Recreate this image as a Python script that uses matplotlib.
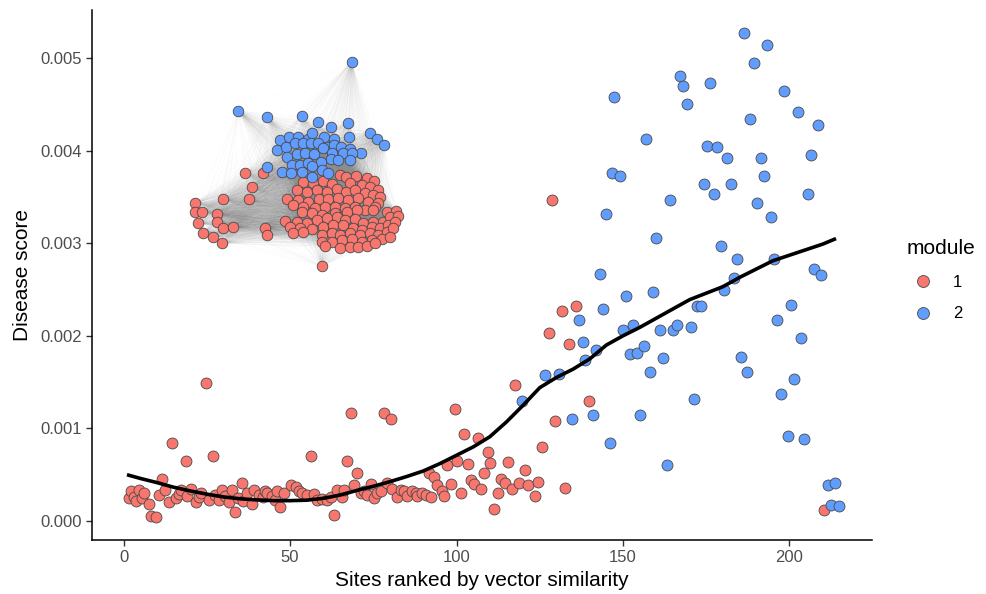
import numpy as np
import matplotlib
matplotlib.use("Agg")
import matplotlib.pyplot as plt
from matplotlib.collections import LineCollection
from matplotlib.lines import Line2D

plt.rcParams['font.family'] = ['Liberation Sans', 'DejaVu Sans']

# ---- main scatter data (scores in units of 1e-3) ----
red_x = [1.6, 2.1, 3.1, 3.6, 4.6, 5.6, 6.1, 7.6, 8.1, 9.6, 10.6, 11.4, 12.5, 13.6, 14.6,
         15.6, 16.5, 17.1, 18.6, 19.0, 20.1, 21.6, 22.5, 23.1, 24.6, 25.6, 26.8, 27.5,
         28.6, 29.6, 30.5, 31.6, 32.6, 33.6, 34.5, 35.6, 36.0, 37.1, 38.6, 39.1, 40.6,
         41.8, 42.5, 43.1, 44.6, 45.5, 46.1, 47.1, 48.3,
         50.2, 51.7, 52.6, 53.7, 55.2, 56.2, 57.2, 58.2, 59.7, 61.2, 62.2, 63.2, 64.2,
         65.7, 66.2, 67.2, 68.2, 69.2, 70.2, 71.2, 72.2, 73.2, 74.2, 75.2, 76.2, 77.2,
         78.2, 79.2, 80.2, 80.7, 82.2, 83.2, 84.2, 85.2, 86.7, 87.7, 88.2, 89.7, 90.7,
         91.7, 92.2, 93.2, 94.2, 95.7, 96.2, 97.2, 98.4, 99.5, 100.2, 101.2, 102.2,
         103.4, 104.2, 105.2, 106.4, 107.4, 108.2, 109.4, 110.2, 111.4, 112.4, 113.4,
         114.7, 115.4, 116.7, 117.7, 118.7, 120.7, 121.4, 123.7, 124.4, 125.7,
         127.7, 128.7, 129.7, 131.7, 132.7, 133.7, 136.0, 139.7, 210.5]
red_y = [0.245, 0.32, 0.26, 0.22, 0.34, 0.245, 0.30, 0.18, 0.057, 0.046, 0.28, 0.45, 0.33, 0.20, 0.84,
         0.245, 0.29, 0.335, 0.65, 0.27, 0.35, 0.21, 0.26, 0.305, 1.49, 0.23, 0.705, 0.28,
         0.23, 0.34, 0.27, 0.21, 0.34, 0.094, 0.25, 0.41, 0.22, 0.30, 0.18, 0.335, 0.28,
         0.26, 0.32, 0.30, 0.27, 0.23, 0.32, 0.155, 0.30,
         0.39, 0.37, 0.32, 0.30, 0.28, 0.705, 0.29, 0.23, 0.235, 0.23, 0.255, 0.065, 0.34,
         0.255, 0.335, 0.65, 1.17, 0.39, 0.52, 0.30, 0.32, 0.28, 0.40, 0.245, 0.305, 0.32,
         1.17, 0.415, 1.10, 0.35, 0.26, 0.335, 0.32, 0.27, 0.32, 0.305, 0.27, 0.305, 0.28,
         0.52, 0.26, 0.48, 0.39, 0.32, 0.27, 0.60, 0.40, 1.21, 0.65, 0.30, 0.94,
         0.615, 0.44, 0.40, 0.90, 0.35, 0.515, 0.75, 0.63, 0.135, 0.305, 0.45,
         0.41, 0.64, 0.35, 1.47, 0.41, 0.55, 0.39, 0.27, 0.425, 0.80,
         2.03, 3.47, 1.08, 2.27, 0.36, 1.91, 2.32, 1.30, 0.12]

blue_x = [119.7, 126.7, 130.7, 134.7, 136.7, 138.0, 138.7, 141.0, 142.0, 143.0, 144.0, 145.0,
          146.0, 146.8, 147.4, 149.2, 150.0, 151.0, 152.0, 153.0, 154.1, 155.0, 156.3, 157.0,
          158.0, 159.0, 160.0, 161.0, 162.0, 163.2, 164.0, 165.0, 166.3, 167.0, 168.0, 169.2,
          170.3, 171.3, 172.3, 173.3, 174.2, 175.3, 176.0, 177.3, 178.3, 179.3, 180.3, 181.3,
          182.3, 183.3, 184.3, 185.3, 186.4, 187.3, 188.3, 189.4, 190.4, 191.4, 192.4, 193.4,
          194.5, 195.4, 196.3, 197.5, 198.4, 199.5, 200.5, 201.5, 202.5, 203.5, 204.5, 205.5,
          206.5, 207.5, 208.5, 209.6, 211.6, 212.5, 213.8, 214.8]
blue_y = [1.30, 1.58, 1.59, 1.10, 2.17, 1.93, 1.74, 1.14, 1.85, 2.67, 2.29, 3.32,
          0.84, 3.76, 4.58, 3.73, 2.06, 2.43, 1.80, 2.12, 1.81, 1.14, 1.89, 4.13,
          1.61, 2.47, 3.06, 2.06, 1.76, 0.60, 3.47, 2.06, 2.12, 4.81, 4.70, 4.50,
          2.09, 1.32, 2.32, 2.32, 3.64, 4.05, 4.73, 3.53, 4.04, 2.97, 2.49, 3.92,
          3.64, 2.62, 2.83, 1.77, 5.27, 1.61, 4.34, 4.95, 3.43, 3.92, 3.73, 5.14,
          3.28, 2.83, 2.17, 1.37, 4.64, 0.92, 2.33, 1.53, 4.42, 1.98, 0.89, 3.53,
          3.95, 2.72, 4.28, 2.66, 0.39, 0.17, 0.41, 0.165]

# smoothed trend
trend_x = [1, 5, 10, 15, 20, 25, 30, 35, 40, 45, 50, 55, 60, 65, 70, 75, 80, 85, 90, 95,
           100, 105, 110, 115, 120, 125, 130, 135, 140, 145, 150, 155, 160, 165, 170, 175,
           180, 185, 190, 195, 200, 205, 210, 214]
trend_y = [0.50, 0.46, 0.415, 0.365, 0.325, 0.29, 0.26, 0.24, 0.228, 0.22, 0.22, 0.225,
           0.245, 0.28, 0.33, 0.375, 0.425, 0.48, 0.54, 0.62, 0.71, 0.80, 0.91, 1.07, 1.25,
           1.44, 1.55, 1.64, 1.75, 1.90, 2.00, 2.09, 2.19, 2.29, 2.39, 2.46, 2.53, 2.63,
           2.72, 2.81, 2.87, 2.93, 2.99, 3.05]

# ---- network inset layout (layout units) ----
net_blue_x = [351.7, 238.3, 266.7, 301.7, 317.7, 331.0, 347.7, 370.0, 376.7, 384.0, 280.0,
              289.0, 298.3, 308.3, 312.3, 324.3, 334.3, 349.0, 276.7, 285.7, 295.0, 303.3,
              311.0, 318.3, 326.7, 334.3, 341.0, 350.0, 361.0, 286.7, 296.7, 305.0, 314.3,
              323.3, 332.3, 343.3, 352.3, 291.7, 300.0, 308.3, 321.0, 331.0, 338.3, 350.0,
              281.7, 291.0, 301.7, 311.7, 321.7, 328.3, 311.7, 266.7]
net_blue_y = [61.7, 111.0, 117.3, 116.0, 122.3, 127.3, 122.7, 132.7, 139.3, 145.3, 140.0,
              136.7, 136.7, 139.3, 132.7, 136.7, 139.3, 137.3, 150.0, 146.7, 143.3, 143.3,
              142.7, 142.7, 146.7, 145.0, 147.3, 149.3, 152.7, 157.3, 154.0, 153.3, 154.3,
              148.3, 153.3, 153.3, 153.3, 165.0, 165.0, 163.3, 161.7, 159.3, 160.0, 160.0,
              171.7, 173.3, 171.7, 166.0, 170.0, 172.7, 177.3, 166.7]

net_red_x = [340.0, 346.0, 356.0, 366.7, 374.0, 303.3, 313.3, 323.3, 331.7, 350.0, 361.7, 370.0, 378.3,
             296.7, 306.7, 316.7, 326.7, 336.7, 346.0, 355.0, 365.0, 373.3, 380.0,
             286.7, 298.3, 308.3, 319.3, 328.3, 338.3, 348.3, 358.3, 368.3, 378.3,
             293.3, 303.3, 315.0, 325.0, 335.0, 345.0, 355.0, 365.0, 375.0,
             301.7, 311.7, 321.7, 335.0, 346.7, 356.7, 373.3, 386.7, 396.0,
             285.0, 296.7, 306.7, 316.7, 326.7, 336.7, 345.0, 355.0, 363.3, 373.3, 383.3, 390.0, 398.3,
             290.0, 300.0, 311.7, 323.3, 333.3, 343.3, 353.3, 361.7, 371.7, 380.0, 388.3, 395.0,
             293.3, 303.3, 321.7, 331.7, 340.0, 350.0, 360.0, 370.0, 378.3, 386.7, 393.3,
             321.7, 331.7, 341.7, 351.7, 361.7, 371.7, 381.7, 390.0,
             325.0, 340.0, 350.0, 358.3, 366.7, 375.0, 321.7,
             245.0, 263.3, 251.7, 223.3, 249.3, 195.0, 195.0, 201.7, 216.7, 198.3, 216.7,
             223.3, 233.3, 203.3, 213.3, 221.7, 265.0, 266.7]
net_red_y = [175.0, 177.3, 176.0, 178.3, 180.7, 181.7, 183.3, 180.7, 184.0, 182.7, 185.0, 186.7, 190.0,
             190.0, 191.7, 190.0, 191.7, 189.3, 191.7, 190.0, 192.7, 195.0, 196.7,
             199.3, 200.0, 201.7, 199.3, 199.3, 198.3, 200.0, 198.3, 201.7, 203.3,
             205.0, 206.7, 208.3, 206.7, 206.7, 208.3, 206.7, 210.0, 206.7,
             211.7, 213.3, 215.0, 213.3, 211.7, 210.0, 210.0, 211.7, 210.7,
             220.7, 221.7, 222.7, 220.0, 218.3, 216.7, 220.0, 219.3, 223.3, 221.7, 221.7, 216.7, 216.0,
             226.7, 228.3, 229.3, 226.7, 225.0, 225.0, 228.3, 230.0, 226.7, 228.3, 225.0, 221.7,
             233.3, 231.7, 235.0, 233.3, 235.0, 232.7, 235.0, 233.3, 235.0, 231.7, 228.3,
             241.7, 241.7, 240.0, 239.3, 241.7, 240.0, 239.3, 236.7,
             246.0, 248.3, 247.3, 246.7, 246.0, 243.3, 266.0,
             172.7, 173.3, 186.7, 199.3, 199.3, 203.3, 211.7, 211.7, 214.0, 223.3, 221.7,
             228.3, 227.3, 232.7, 236.7, 243.3, 228.3, 235.0]

RED = '#F8766D'
BLUE = '#619CFF'
EDGE = '#4a4a4a'

fig = plt.figure(figsize=(9.87, 5.94), dpi=100)
ax = fig.add_axes([92 / 987, 54 / 594, 780 / 987, 530 / 594])

sy = 1e-3
ax.scatter(red_x, np.array(red_y) * sy, s=62, c=RED, edgecolors=EDGE, linewidths=0.6, zorder=3)
ax.scatter(blue_x, np.array(blue_y) * sy, s=62, c=BLUE, edgecolors=EDGE, linewidths=0.6, zorder=3)
ax.plot(trend_x, np.array(trend_y) * sy, color='black', lw=2.6, zorder=4, solid_capstyle='butt')

ax.set_xlim(-9.5, 224.8)
ax.set_ylim(-0.205e-3, 5.518e-3)
ax.set_xticks([0, 50, 100, 150, 200])
ax.set_yticks([0, 0.001, 0.002, 0.003, 0.004, 0.005])
ax.set_yticklabels(['0.000', '0.001', '0.002', '0.003', '0.004', '0.005'])
ax.tick_params(axis='both', labelsize=12, labelcolor='#4d4d4d', color='#333333',
               length=4, width=1)
for s in ['top', 'right']:
    ax.spines[s].set_visible(False)
for s in ['left', 'bottom']:
    ax.spines[s].set_linewidth(1.1)
    ax.spines[s].set_color('black')
ax.set_xlabel('Sites ranked by vector similarity', fontsize=15, labelpad=4)
ax.set_ylabel('Disease score', fontsize=15, labelpad=6)

handles = [Line2D([], [], marker='o', ls='', markersize=8.6, markerfacecolor=RED,
                  markeredgecolor=EDGE, markeredgewidth=0.6),
           Line2D([], [], marker='o', ls='', markersize=8.6, markerfacecolor=BLUE,
                  markeredgecolor=EDGE, markeredgewidth=0.6)]
leg = ax.legend(handles, ['1', '2'], title='module', loc='center left',
                bbox_to_anchor=(1.025, 0.49), frameon=False, fontsize=12,
                title_fontsize=15, handletextpad=0.8, labelspacing=1.0)
leg._legend_box.align = 'left'

# network inset
ins = fig.add_axes([180 / 987, 1 - 280 / 594, 235 / 987, 240 / 594])
ins.set_xlim(180, 415)
ins.set_ylim(280, 40)
ins.axis('off')
ins.patch.set_alpha(0)

nx = np.array(net_red_x + net_blue_x)
ny = np.array(net_red_y + net_blue_y)
i, j = np.triu_indices(len(nx), k=1)
segs = np.stack([np.column_stack([nx[i], ny[i]]), np.column_stack([nx[j], ny[j]])], axis=1)
ins.add_collection(LineCollection(segs, colors='#8c8c8c', linewidths=0.3, alpha=0.045, zorder=1))
ins.scatter(net_red_x, net_red_y, s=58, c=RED, edgecolors=EDGE, linewidths=0.6, zorder=2)
ins.scatter(net_blue_x, net_blue_y, s=58, c=BLUE, edgecolors=EDGE, linewidths=0.6, zorder=3)

fig.savefig('out.png', dpi=100)
